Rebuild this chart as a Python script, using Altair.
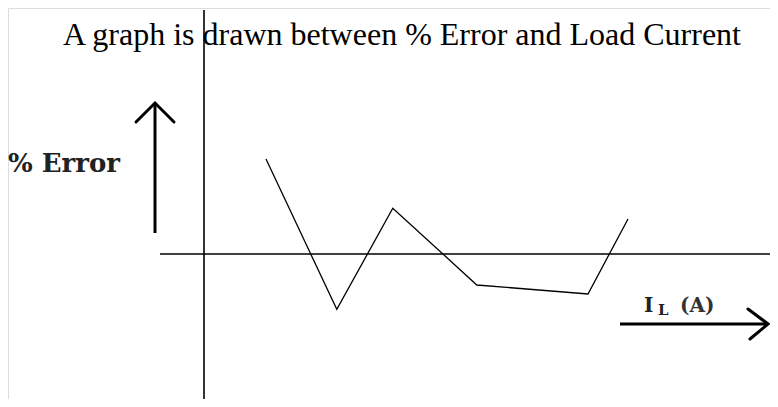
import altair as alt
import pandas as pd

# ---- data ----
load_current = [1.55, 3.32, 4.72, 6.82, 9.6, 10.6]
pct_error = [4.75, -2.77, 2.29, -1.55, -2.0, 1.75]

title_text = "A graph is drawn between % Error and Load Current"
y_label = "% Error"
x_label_main = "I"
x_label_sub = "L"
x_label_unit = "(A)"

# ---- scales (data units) ----
XMIN, XMAX = -4.9, 14.15
YMIN, YMAX = -7.25, 12.3
W, H = 762, 391

xs = alt.Scale(domain=[XMIN, XMAX], nice=False, zero=False)
ys = alt.Scale(domain=[YMIN, YMAX], nice=False, zero=False)


def X(field="x"):
    return alt.X(f"{field}:Q", scale=xs, axis=None)


def Y(field="y"):
    return alt.Y(f"{field}:Q", scale=ys, axis=None)


series = pd.DataFrame({"x": load_current, "y": pct_error})

line = alt.Chart(series).mark_line(color="black", strokeWidth=1.3).encode(x=X(), y=Y())

# axes drawn through the origin
axes_df = pd.DataFrame({
    "x": [0, -1.1], "x2": [0, XMAX],
    "y": [-7.55, 0], "y2": [12.2, 0],
})
axes = alt.Chart(axes_df).mark_rule(color="black", strokeWidth=1.6).encode(
    x=X(), x2="x2:Q", y=Y(), y2="y2:Q"
)

# arrows
arrow_shafts_df = pd.DataFrame({
    "x": [-1.225, 10.4], "x2": [-1.225, 14.1],
    "y": [1.05, -3.5], "y2": [7.55, -3.5],
})
arrow_shafts = alt.Chart(arrow_shafts_df).mark_rule(color="black", strokeWidth=3).encode(
    x=X(), x2="x2:Q", y=Y(), y2="y2:Q"
)

heads_df = pd.DataFrame({
    "head": ["up", "up", "up", "right", "right", "right"],
    "i": [0, 1, 2, 0, 1, 2],
    "x": [-1.7, -1.225, -0.75, 13.6, 14.1, 13.65],
    "y": [6.6, 7.55, 6.6, -2.75, -3.5, -4.25],
})
heads = alt.Chart(heads_df).mark_line(
    color="black", strokeWidth=3, strokeJoin="miter", strokeCap="round"
).encode(x=X(), y=Y(), detail="head:N", order="i:O")

# texts
title = alt.Chart(pd.DataFrame({"x": [-3.525], "y": [10.45], "t": [title_text]})).mark_text(
    font="Liberation Serif", fontSize=32, align="left", baseline="alphabetic", color="black"
).encode(x=X(), y=Y(), text="t:N")

ylab = alt.Chart(pd.DataFrame({"x": [-4.9], "y": [4.1], "t": [y_label]})).mark_text(
    font="DejaVu Serif", fontWeight="bold", fontSize=26, align="left",
    baseline="alphabetic", color="#222222"
).encode(x=X(), y=Y(), text="t:N")

xl1 = alt.Chart(pd.DataFrame({"x": [11.0], "y": [-2.9], "t": [x_label_main]})).mark_text(
    font="DejaVu Serif", fontWeight="bold", fontSize=20, align="left",
    baseline="alphabetic", color="#222222"
).encode(x=X(), y=Y(), text="t:N")

xl2 = alt.Chart(pd.DataFrame({"x": [11.35], "y": [-3.05], "t": [x_label_sub]})).mark_text(
    font="DejaVu Serif", fontWeight="bold", fontSize=15, align="left",
    baseline="alphabetic", color="#222222"
).encode(x=X(), y=Y(), text="t:N")

xl3 = alt.Chart(pd.DataFrame({"x": [11.9], "y": [-2.9], "t": [x_label_unit]})).mark_text(
    font="DejaVu Serif", fontWeight="bold", fontSize=20, align="left",
    baseline="alphabetic", color="#333333"
).encode(x=X(), y=Y(), text="t:N")

chart = alt.layer(axes, line, arrow_shafts, heads, title, ylab, xl1, xl2, xl3).properties(
    width=W, height=H,
    autosize=alt.AutoSizeParams(type="none"),
    padding={"left": 0, "right": 0, "top": 0, "bottom": 0},
).configure_view(stroke=None).configure(background="white")

chart.save("out.html", embed_options={"renderer": "svg", "actions": False})
